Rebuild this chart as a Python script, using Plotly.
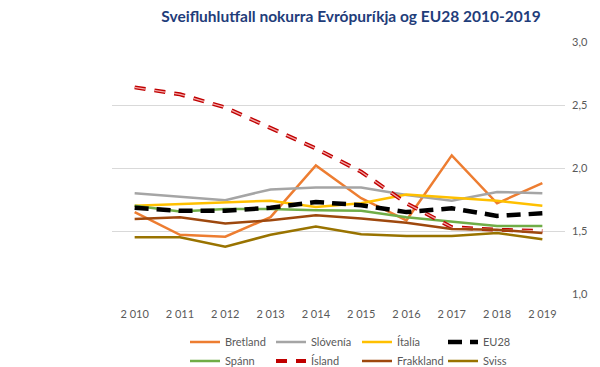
import plotly.graph_objects as go

years = ["2 010", "2 011", "2 012", "2 013", "2 014", "2 015", "2 016", "2 017", "2 018", "2 019"]

bretland = [1.65, 1.47, 1.455, 1.61, 2.02, 1.76, 1.585, 2.10, 1.72, 1.88]
slovenia = [1.80, 1.77, 1.745, 1.83, 1.845, 1.845, 1.785, 1.74, 1.81, 1.80]
italia = [1.70, 1.715, 1.73, 1.74, 1.69, 1.72, 1.79, 1.765, 1.74, 1.70]
eu28 = [1.685, 1.66, 1.66, 1.685, 1.73, 1.705, 1.65, 1.68, 1.62, 1.64]
spann = [1.70, 1.655, 1.675, 1.675, 1.665, 1.66, 1.61, 1.575, 1.54, 1.54]
island = [2.64, 2.585, 2.48, 2.32, 2.155, 1.97, 1.72, 1.53, 1.51, 1.50]
frakkland = [1.595, 1.61, 1.56, 1.585, 1.625, 1.60, 1.565, 1.515, 1.51, 1.485]
sviss = [1.45, 1.45, 1.375, 1.47, 1.535, 1.475, 1.46, 1.46, 1.485, 1.435]

title = "Sveifluhlutfall nokurra Evrópuríkja og EU28 2010-2019"

fig = go.Figure()

def add(name, y, color, width, dash="solid", legend="legend"):
    fig.add_trace(go.Scatter(x=years, y=y, name=name, mode="lines",
                             line=dict(color=color, width=width, dash=dash),
                             legend=legend, hoverinfo="skip"))

add("Bretland", bretland, "#ED7D31", 2.5)
add("Slóvenía", slovenia, "#A5A5A5", 2.5)
add("Ítalía", italia, "#FFC000", 2.5)
add("Spánn", spann, "#70AD47", 2.5, legend="legend2")
add("Ísland", island, "#C00000", 4, dash="11px,9px", legend="legend2")
fig.add_trace(go.Scatter(x=years, y=island, mode="lines", showlegend=False,
                         line=dict(color="#F2A7A7", width=1.3, dash="11px,9px"),
                         hoverinfo="skip"))
add("Frakkland", frakkland, "#9E480E", 2.5, legend="legend2")
add("Sviss", sviss, "#997300", 2.5, legend="legend2")
add("EU28", eu28, "#000000", 4.5, dash="14px,8px")

leg_common = dict(orientation="h", xref="container", yref="container",
                  xanchor="left", yanchor="middle",
                  entrywidth=41, entrywidthmode="pixels",
                  font=dict(size=11, color="#595959"),
                  bgcolor="rgba(0,0,0,0)", itemwidth=30)

fig.update_layout(
    width=600, height=367, autosize=False,
    margin=dict(l=112, r=35, t=42, b=73, autoexpand=False),
    paper_bgcolor="white", plot_bgcolor="white",
    separators=", ",
    font=dict(family="Lato, Open Sans, sans-serif", color="#595959", size=11),
    title=dict(text="<b>" + title + "</b>", x=351 / 600, xanchor="center", xref="container",
               y=1 - 17 / 367, yanchor="middle", yref="container",
               font=dict(size=15.5, color="#1F3D7A")),
    xaxis=dict(showgrid=False, showline=False, zeroline=False, ticks="",
               range=[-0.5, 9.5], automargin=False,
               ticklabelstandoff=12, tickfont=dict(size=11, color="#595959")),
    yaxis=dict(range=[1, 3], dtick=0.5, tickformat=".1f", side="right",
               showgrid=True, gridcolor="#D9D9D9", gridwidth=1, zeroline=False,
               showline=False, automargin=False, tickfont=dict(size=11, color="#595959"),
               ticklabelstandoff=6),
    legend=dict(x=185 / 600, y=1 - 342 / 367, **leg_common),
    legend2=dict(x=185 / 600, y=1 - 361 / 367, **leg_common),
    showlegend=True,
)

fig.write_html("out.html", config={"displayModeBar": False},
               post_script="document.body.style.margin='0';document.body.style.overflow='hidden';")
